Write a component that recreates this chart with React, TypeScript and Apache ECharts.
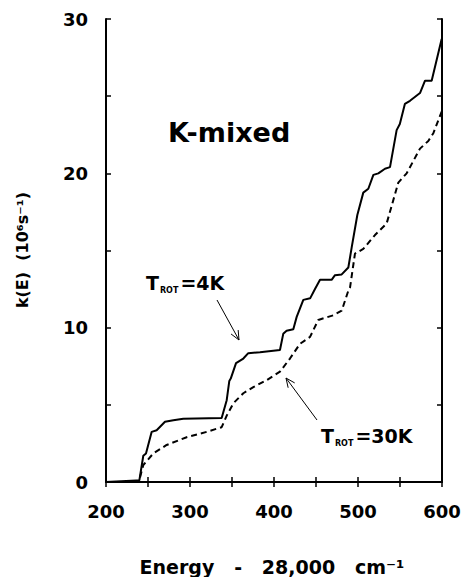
import React, { useEffect, useRef } from "react";
import * as echarts from "echarts";

const solidEnergy = [200, 236, 239.7, 244.4, 247.6, 254.4, 260.3, 270.2, 280.2, 292, 337.7, 343.7, 346.8, 348.5, 354.8, 363.5, 369.4, 383.3, 407.1, 411, 415, 423, 427, 434.9, 443, 448.8, 454.8, 468.6, 472.6, 480.6, 488.5, 492.5, 499.2, 506.3, 512.3, 518.3, 524.2, 532.1, 538.1, 546, 549.8, 555.8, 561.9, 573.8, 579.8, 587.7, 599.6];
const solidRate = [0, 0.1, 0.1, 1.7, 1.85, 3.25, 3.35, 3.9, 4.0, 4.1, 4.15, 5.3, 6.55, 6.7, 7.7, 8.0, 8.35, 8.4, 8.55, 9.6, 9.8, 9.9, 10.7, 11.8, 11.9, 12.5, 13.1, 13.1, 13.4, 13.45, 13.9, 15.2, 17.3, 18.75, 19.0, 19.9, 20.0, 20.3, 20.4, 22.8, 23.2, 24.5, 24.7, 25.2, 26.0, 26.0, 28.7];

const dashedEnergy = [240.5, 244.4, 256.3, 272.2, 296, 319.9, 337.7, 343.7, 351.6, 363.5, 375.4, 391.3, 407.1, 419, 430.9, 442.9, 452.7, 470.6, 480.6, 488.5, 490.5, 496.4, 506.3, 520.2, 534.1, 540.1, 548, 557.9, 573.8, 583.7, 589.7, 599.6];
const dashedRate = [0.3, 1.1, 1.85, 2.4, 2.9, 3.25, 3.55, 4.3, 5.1, 5.75, 6.15, 6.6, 7.15, 8.0, 8.95, 9.4, 10.5, 10.8, 11.1, 12.4, 12.6, 14.8, 15.1, 16.0, 16.75, 17.9, 19.4, 20.0, 21.6, 22.1, 22.6, 24.0];

const xTickLabels = ["200", "300", "400", "500", "600"];
const yTickLabels = ["0", "10", "20", "30"];

const FONT = "'DejaVu Sans', Arial, sans-serif";

function arrow(x1: number, y1: number, x2: number, y2: number) {
  const dx = x2 - x1, dy = y2 - y1;
  const len = Math.hypot(dx, dy);
  const ux = dx / len, uy = dy / len;
  const h = 10, a = (24 * Math.PI) / 180;
  const rot = (ang: number) => [ux * Math.cos(ang) - uy * Math.sin(ang), ux * Math.sin(ang) + uy * Math.cos(ang)];
  const r1 = rot(a), r2 = rot(-a);
  return [
    { type: "line", shape: { x1, y1, x2, y2 }, style: { stroke: "#000", lineWidth: 1 } },
    {
      type: "polyline",
      shape: { points: [[x2 - r1[0] * h, y2 - r1[1] * h], [x2, y2], [x2 - r2[0] * h, y2 - r2[1] * h]] },
      style: { stroke: "#000", lineWidth: 1, fill: null },
    },
  ];
}

const richLabel = {
  a: { fontFamily: FONT, fontWeight: "bold", fontSize: 19, lineHeight: 22, verticalAlign: "middle", fill: "#000" },
  s: { fontFamily: FONT, fontWeight: "bold", fontSize: 8, lineHeight: 10, verticalAlign: "bottom", fill: "#000", padding: [0, 2, 0, 1] },
};

export default function App() {
  const ref = useRef<HTMLDivElement>(null);
  useEffect(() => {
    if (!ref.current) return;
    const chart = echarts.init(ref.current, null, { renderer: "svg" });
    const axisLine = { show: true, lineStyle: { color: "#000", width: 2 } };
    const tick = { show: true, inside: true, length: 5, lineStyle: { color: "#000", width: 1.5 } };
    const labelStyle = { color: "#000", fontFamily: FONT, fontWeight: "bold" as const, fontSize: 18 };
    chart.setOption({
      animation: false,
      backgroundColor: "#fff",
      grid: { left: 106, right: 24, top: 19, bottom: 95, containLabel: false },
      xAxis: [
        {
          type: "value", min: 200, max: 600, interval: 50, position: "bottom",
          axisLine, axisTick: tick, splitLine: { show: false },
          axisLabel: {
            ...labelStyle, margin: 20,
            formatter: (v: number) => xTickLabels.find((t) => Number(t) === v) ?? "",
          },
        },
        {
          type: "value", min: 200, max: 600, interval: 50, position: "top",
          axisLine, axisTick: tick, splitLine: { show: false }, axisLabel: { show: false },
        },
      ],
      yAxis: [
        {
          type: "value", min: 0, max: 30, interval: 5, position: "left",
          axisLine, axisTick: tick, splitLine: { show: false },
          axisLabel: {
            ...labelStyle, margin: 18,
            formatter: (v: number) => yTickLabels.find((t) => Number(t) === v) ?? "",
          },
        },
        {
          type: "value", min: 0, max: 30, interval: 5, position: "right",
          axisLine, axisTick: tick, splitLine: { show: false }, axisLabel: { show: false },
        },
      ],
      series: [
        {
          name: "T_ROT=4K", type: "line", xAxisIndex: 0, yAxisIndex: 0, symbol: "none",
          data: solidEnergy.map((x, i) => [x, solidRate[i]]),
          lineStyle: { color: "#000", width: 2 },
        },
        {
          name: "T_ROT=30K", type: "line", xAxisIndex: 0, yAxisIndex: 0, symbol: "none",
          data: dashedEnergy.map((x, i) => [x, dashedRate[i]]),
          lineStyle: { color: "#000", width: 2, type: [6, 4] },
        },
      ],
      graphic: [
        {
          type: "text", x: 168, y: 132,
          style: { text: "K-mixed", font: `bold 27px ${FONT}`, fill: "#000", align: "left", verticalAlign: "middle" },
        },
        {
          type: "text", x: 146, y: 283,
          style: { text: "{a|T}{s|ROT}{a|=4K}", align: "left", verticalAlign: "middle", rich: richLabel },
        },
        {
          type: "text", x: 321, y: 436,
          style: { text: "{a|T}{s|ROT}{a|=30K}", align: "left", verticalAlign: "middle", rich: richLabel },
        },
        ...arrow(217, 300, 239, 340),
        ...arrow(317, 420, 286, 378),
        {
          type: "text", x: 272, y: 567,
          style: { text: "Energy   -   28,000   cm⁻¹", font: `bold 19px ${FONT}`, fill: "#000", align: "center", verticalAlign: "middle" },
        },
        {
          type: "text", x: 22, y: 250, rotation: Math.PI / 2,
          style: { text: "k(E)  (10⁶s⁻¹)", font: `bold 16px ${FONT}`, fill: "#000", align: "center", verticalAlign: "middle" },
        },
      ],
    });
    return () => chart.dispose();
  }, []);
  return <div ref={ref} style={{ position: "fixed", left: 0, top: 0, width: 466, height: 577 }} />;
}
